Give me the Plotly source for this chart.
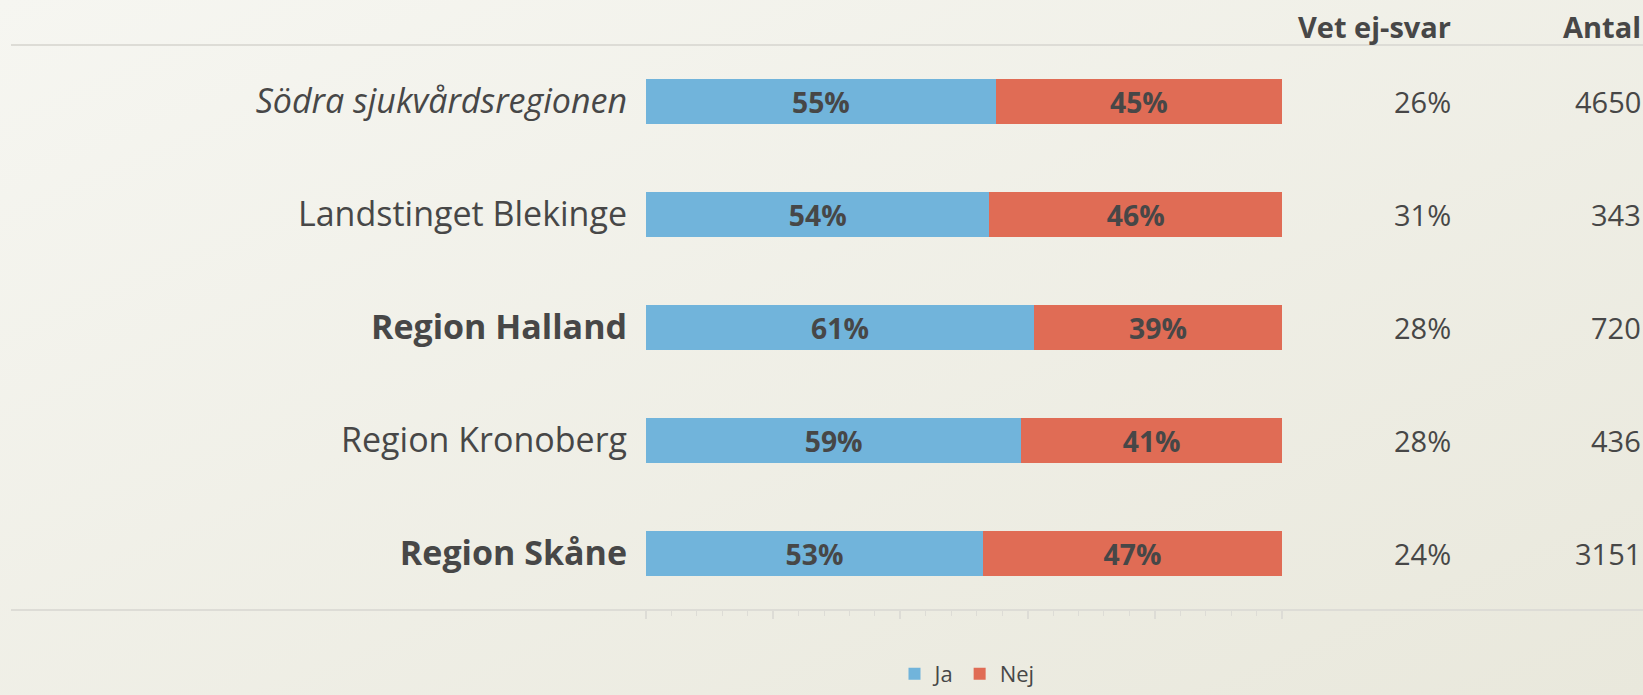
import base64
import plotly.graph_objects as go

# ---- data ----
regions = ["Södra sjukvårdsregionen", "Landstinget Blekinge", "Region Halland",
           "Region Kronoberg", "Region Skåne"]
region_labels = ["<i>Södra sjukvårdsregionen</i>", "Landstinget Blekinge",
                 "<b>Region Halland</b>", "Region Kronoberg", "<b>Region Skåne</b>"]
ja = [55, 54, 61, 59, 53]
nej = [45, 46, 39, 41, 47]
vet_ej = [26, 31, 28, 28, 24]
antal = [4650, 343, 720, 436, 3151]
col_headers = ["Vet ej-svar", "Antal"]

W, H = 1643, 695
BLUE = "#71B4DB"
RED = "#E06C55"
TXT = "#474747"
LINE = "#DDDCD6"
FONT = "Open Sans"

# background gradient (decoration only)
svg = ('<svg xmlns="http://www.w3.org/2000/svg" width="1643" height="695">'
       '<defs><linearGradient id="g" x1="0" y1="0" x2="1" y2="1">'
       '<stop offset="0" stop-color="#F6F6F1"/><stop offset="1" stop-color="#E9E8DC"/>'
       '</linearGradient></defs><rect width="1643" height="695" fill="url(#g)"/></svg>')
bg_src = "data:image/svg+xml;base64," + base64.b64encode(svg.encode()).decode()

fig = go.Figure()
fig.add_trace(go.Bar(
    y=regions, x=[v / 100 for v in ja], orientation="h", name="Ja",
    marker=dict(color=BLUE, line=dict(width=0)),
    text=[f"{v}%" for v in ja], textposition="inside", insidetextanchor="middle",
    textfont=dict(family=FONT, size=29, color=TXT, weight="bold"),
    hoverinfo="skip",
))
fig.add_trace(go.Bar(
    y=regions, x=[v / 100 for v in nej], orientation="h", name="Nej",
    marker=dict(color=RED, line=dict(width=0)),
    text=[f"{v}%" for v in nej], textposition="inside", insidetextanchor="middle",
    textfont=dict(family=FONT, size=29, color=TXT, weight="bold"),
    hoverinfo="skip",
))

x0p, x1p = 646 / W, 1282 / W
ytop, ybot = 1 - 45 / H, 1 - 610 / H

annotations = []
for r, v, n in zip(regions, vet_ej, antal):
    annotations.append(dict(x=1453 / W, xref="paper", y=r, yref="y", text=f"{v}%",
                            xanchor="right", yanchor="middle", showarrow=False,
                            font=dict(family=FONT, size=29, color=TXT)))
    annotations.append(dict(x=1643 / W, xref="paper", y=r, yref="y", text=str(n),
                            xanchor="right", yanchor="middle", showarrow=False,
                            font=dict(family=FONT, size=29, color=TXT)))
annotations.append(dict(x=1453 / W, xref="paper", y=1 - 26 / H, yref="paper",
                        text=f"<b>{col_headers[0]}</b>", xanchor="right", yanchor="middle",
                        showarrow=False, font=dict(family=FONT, size=29, color=TXT)))
annotations.append(dict(x=1643 / W, xref="paper", y=1 - 26 / H, yref="paper",
                        text=f"<b>{col_headers[1]}</b>", xanchor="right", yanchor="middle",
                        showarrow=False, font=dict(family=FONT, size=29, color=TXT)))

shapes = [
    dict(type="line", xref="paper", yref="paper", x0=11 / W, x1=1, y0=ytop, y1=ytop,
         line=dict(color=LINE, width=2), layer="below"),
    dict(type="line", xref="paper", yref="paper", x0=11 / W, x1=1, y0=ybot, y1=ybot,
         line=dict(color=LINE, width=2), layer="below"),
]

fig.update_layout(
    width=W, height=H, autosize=False,
    margin=dict(l=0, r=0, t=0, b=0, pad=0, autoexpand=False),
    paper_bgcolor="#F0EFE7", plot_bgcolor="rgba(0,0,0,0)",
    images=[dict(source=bg_src, xref="paper", yref="paper", x=0, y=1, sizex=1, sizey=1,
                 xanchor="left", yanchor="top", sizing="stretch", layer="below")],
    barmode="stack", bargap=0.61,
    font=dict(family=FONT, color=TXT),
    showlegend=True,
    legend=dict(orientation="h", x=967 / W, xanchor="center", y=0,
                yanchor="bottom", font=dict(family=FONT, size=22, color=TXT),
                bgcolor="rgba(0,0,0,0)", traceorder="normal", itemwidth=30),
    xaxis=dict(domain=[x0p, x1p], range=[0, 1], showgrid=False, zeroline=False,
               showline=False, showticklabels=False, automargin=False,
               ticks="outside", tickvals=[0, 0.2, 0.4, 0.6, 0.8, 1.0], ticklen=8,
               tickcolor=LINE, tickwidth=2,
               minor=dict(ticks="outside", dtick=0.04, tick0=0, ticklen=5,
                          tickcolor=LINE, tickwidth=1, showgrid=False),
               fixedrange=True),
    yaxis=dict(domain=[ybot, ytop], autorange="reversed", showgrid=False,
               zeroline=False, showline=False, ticks="", automargin=False,
               tickvals=regions, ticktext=region_labels,
               categoryorder="array", categoryarray=regions,
               tickfont=dict(family=FONT, size=34, color=TXT),
               ticklabelstandoff=18, fixedrange=True),
    annotations=annotations, shapes=shapes,
)

fig.write_html("out.html", config={"displayModeBar": False},
               post_script="document.body.style.margin='0';document.body.style.overflow='hidden';")
